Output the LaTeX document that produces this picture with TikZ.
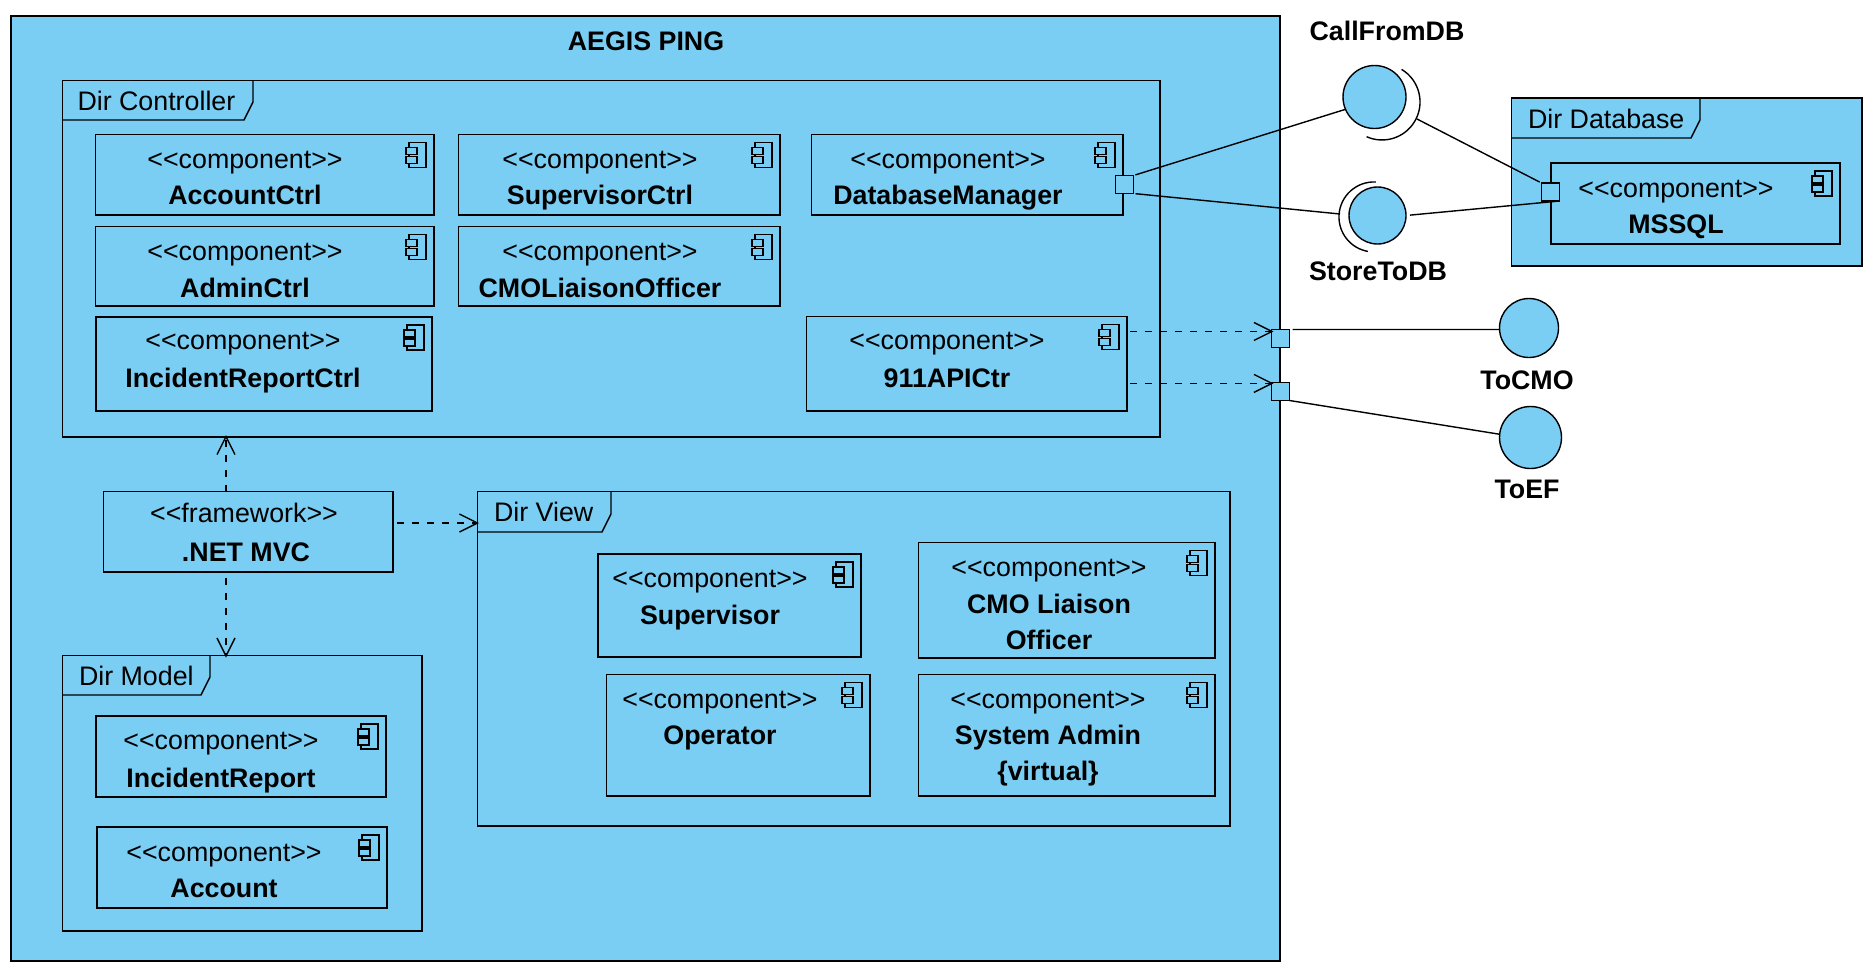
\documentclass[tikz,border=0pt]{standalone}
\usepackage{fontspec}
\setmainfont{Liberation Sans}
\usetikzlibrary{arrows.meta,calc}
\definecolor{umlblue}{RGB}{122,206,244}
\newcommand{\stcomp}{<\kern0pt<component>\kern0pt>}
\newcommand{\stfw}{<\kern0pt<framework>\kern0pt>}
% box: name x1 y1 x2 y2
\newcommand{\umlbox}[5]{\node[boxnode,minimum width={(#4-#2)*0.5pt},minimum height={(#5-#3)*0.5pt}] (#1) at ({(#2+#4)/2},{(#3+#5)/2}) {};}
% component: name x1 y1 x2 y2 cx ys yt title
\newcommand{\umlcomp}[9]{\umlbox{#1}{#2}{#3}{#4}{#5}
 \draw[icon] (#4-25,#3+8) rectangle (#4-8,#3+33);
 \draw[icon,fill=umlblue] (#4-28,#3+13) rectangle (#4-17,#3+20);
 \draw[icon,fill=umlblue] (#4-28,#3+22) rectangle (#4-17,#3+29);
 \node[sttxt] (#1-st) at (#6,#7) {\stcomp};
 \node[btxt] (#1-nm) at (#6,#8) {#9};}
% frame: name x1 y1 x2 y2 tabx taby label labelx
\newcommand{\umlframe}[9]{\umlbox{#1}{#2}{#3}{#4}{#5}
 \draw[thin line] (#2,#7) -- (#6-9,#7) -- (#6,#7-18) -- (#6,#3);
 \node[txt,anchor=west,yshift=-1.5pt] (#1-tab) at (#9,{(#3+#7)/2}) {#8};}
\tikzset{
 thin line/.style={line width=0.7pt,black},
 boxnode/.style={draw=black,fill=umlblue,line width=0.7pt,rectangle,inner sep=0pt,outer sep=0pt},
 icon/.style={line width=0.6pt,draw=black},
 txt/.style={inner sep=0pt,outer sep=0pt,text=black,text height=10pt,text depth=3pt,font=\fontsize{13.4}{16}\selectfont},
 sttxt/.style={txt,yshift=-0.5pt},
 btxt/.style={txt,yshift=-1.25pt,font=\fontsize{13.4}{16}\selectfont\bfseries},
 iface/.style={circle,draw=black,fill=umlblue,line width=0.7pt,inner sep=0pt,outer sep=0pt},
 dep/.style={line width=0.7pt,dash pattern=on 3.5pt off 4pt,shorten >=-1pt,-{Straight Barb[length=9pt,width=9pt,line width=0.7pt]}},
 conn/.style={line width=0.7pt},
}
\begin{document}
\begin{tikzpicture}[x=0.5pt,y=-0.5pt]
\useasboundingbox (0,0) rectangle (1875,975);
% outer
\umlbox{aegis}{11}{16}{1280}{961}
\node[btxt] (aegis-title) at (646,41) {AEGIS PING};
% controller
\umlframe{ctrl}{62.5}{80.5}{1160}{437}{253}{120}{Dir Controller}{77.5}
\umlcomp{acc}{95.5}{134.5}{434}{215}{245}{160}{195}{AccountCtrl}
\umlcomp{adm}{95.5}{226.5}{434}{306}{245}{252}{288}{AdminCtrl}
\umlcomp{inc}{96}{317}{432}{411}{243}{341}{378}{IncidentReportCtrl}
\umlcomp{sup}{458.5}{134.5}{780}{215}{600}{160}{195}{SupervisorCtrl}
\umlcomp{cmo}{458.5}{226.5}{780}{306}{600}{252}{288}{CMOLiaisonOfficer}
\umlcomp{dbm}{811.5}{134.5}{1123}{215}{948}{160}{195}{DatabaseManager}
\umlcomp{api}{806.5}{316.5}{1127}{411}{947}{341}{378}{911APICtr}
% framework
\umlbox{fw}{103.5}{491.5}{393}{572}
\node[sttxt] (fw-st) at (244,514) {\stfw};
\node[btxt] (fw-nm) at (246,552) {.NET MVC};
% view
\umlframe{view}{477.5}{491.5}{1230}{826}{611}{532}{Dir View}{494}
\umlcomp{vsup}{598}{554}{861}{657}{710}{579}{615}{Supervisor}
\umlcomp{vcmo}{918.5}{542.5}{1215}{658}{1049}{568}{604}{CMO Liaison}
\node[btxt] (vcmo-nm2) at (1049,640) {Officer};
\umlcomp{vop}{606.5}{674.5}{870}{796}{720}{700}{735}{Operator}
\umlcomp{vsys}{918.5}{674.5}{1215}{796}{1048}{700}{735}{System Admin}
\node[btxt] (vsys-nm2) at (1048,771) {\{virtual\}};
% model
\umlframe{model}{62.5}{655.5}{422}{931}{210}{695}{Dir Model}{79}
\umlcomp{minc}{96}{716}{386}{797}{221}{741}{778}{IncidentReport}
\umlcomp{macc}{97}{827}{387}{908}{224}{853}{888}{Account}
% database
\umlframe{dbdir}{1511.5}{98}{1862}{266}{1700}{138}{Dir Database}{1528}
\umlcomp{mssql}{1551}{163}{1840}{244}{1676}{189}{224}{MSSQL}
% interfaces
\node[iface,minimum size=31.5pt] (cfdb) at (1374.5,97) {};
\node[iface,minimum size=28.5pt] (stdb) at (1377.5,215.5) {};
\node[iface,minimum size=29.5pt] (tocmo) at (1529,328) {};
\node[iface,minimum size=31pt] (toef) at (1530.5,437.5) {};
\draw[conn] (1401.6,69.4) arc[start angle=59,end angle=-114,radius=19pt];
\draw[conn] (1375.8,182) arc[start angle=87,end angle=260,radius=17.5pt];
\node[btxt] (cfdb-lb) at (1387,31) {CallFromDB};
\node[btxt] (stdb-lb) at (1378,271) {StoreToDB};
\node[btxt] (tocmo-lb) at (1527,380) {ToCMO};
\node[btxt] (toef-lb) at (1527,489) {ToEF};
% ports
\node[boxnode,minimum size=9pt] (dbp) at (1124.5,184.5) {};
\node[boxnode,minimum size=9pt] (p1) at (1280.5,338.5) {};
\node[boxnode,minimum size=9pt] (p2) at (1280.5,391.5) {};
\node[boxnode,minimum size=9pt] (mp) at (1550.5,192) {};
\coordinate (callsock) at (1417,119);
\coordinate (storesock) at (1340,214);
\coordinate (fwx) at (226,0);
\coordinate (viewin) at (477,523);
% connectors
\draw[conn,shorten <=1pt] (dbp.north east) -- (cfdb.203);
\draw[conn,shorten <=1pt] (dbp.south east) -- (storesock);
\draw[conn,shorten >=1pt] (callsock) -- (mp.north west);
\draw[conn,shorten <=2pt,shorten >=1.5pt] (stdb.east) -- (mp.south east);
\draw[conn,shorten <=1.5pt] (p1.north east) -- (tocmo.183);
\draw[conn] (p2.south east) -- (toef.174);
\draw[dep,shorten <=1.5pt] (api.east |- p1.142) -- (p1.142);
\draw[dep,shorten <=1.5pt] (api.east |- p2.138) -- (p2.138);
\draw[dep] (fw.north -| fwx) -- (ctrl.south -| fwx);
\draw[dep,shorten <=3pt] (fw.south -| fwx) -- (model.north -| fwx);
\draw[dep,shorten <=2pt] (fw.east |- viewin) -- (viewin);
\end{tikzpicture}
\end{document}
